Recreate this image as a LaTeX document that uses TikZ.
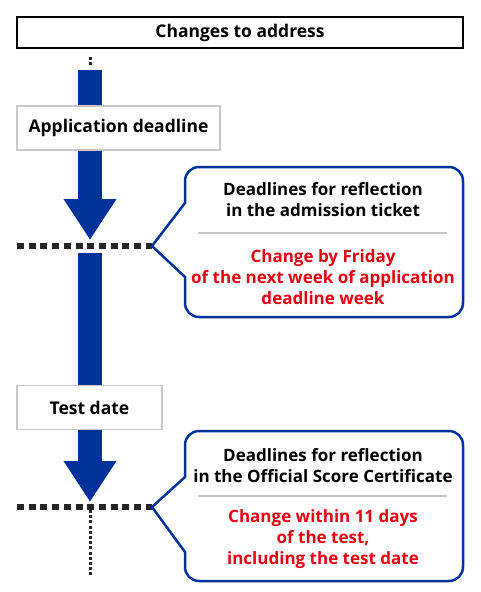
\documentclass[tikz,border=0pt]{standalone}
\usepackage{fontspec}
\setmainfont{Open Sans}
\usetikzlibrary{arrows.meta}
\definecolor{navy}{HTML}{003399}
\definecolor{redtxt}{HTML}{E60012}
\definecolor{boxgrey}{HTML}{C8C8C8}
\definecolor{sepgrey}{HTML}{C4C4C4}
\tikzset{
  fnt/.style={font=\fontsize{17}{21}\selectfont\bfseries},
  txt/.style={fnt, align=center, inner sep=0pt},
  topbox/.style={font=\fontsize{17.5}{21}\selectfont\bfseries, draw=black, line width=1.3pt, fill=white, minimum width=446pt, minimum height=31pt, inner sep=0pt},
  stagebox/.style={font=\fontsize{17.5}{21}\selectfont\bfseries, draw=boxgrey, line width=1.8pt, fill=white, minimum height=44pt, inner sep=0pt},
  bluebar/.style={draw=navy, line width=24pt},
  bluearrow/.style={bluebar, -{Triangle[width=50pt,length=41pt]}},
  thickdots/.style={line width=6.5pt, dash pattern=on 7pt off 4.7pt, black!85},
  thindots/.style={line width=3pt, dash pattern=on 3pt off 2.2pt, black!85},
  callout/.style={draw=navy, line width=2.5pt, fill=white, line join=miter},
  sepline/.style={draw=sepgrey, line width=2.5pt},
}
\begin{document}
\begin{tikzpicture}[x=1pt,y=-1pt]
\useasboundingbox (0,0) rectangle (480,592);
% boxes
\node[topbox] (top) at (240,32.5) {Changes to address};
\node[stagebox, minimum width=203pt] (app) at (118.5,128) {Application deadline};
\node[stagebox, minimum width=145pt] (test) at (89.5,407.5) {Test date};
% coordinates
\coordinate (d1t) at (90,57);
\coordinate (d1b) at (90,67);
\coordinate (b1) at (90,70);
\coordinate (tip1) at (90,240);
\coordinate (h1l) at (17,246);
\coordinate (h1r) at (152,246);
\coordinate (b2) at (90,253);
\coordinate (tip2) at (90,502);
\coordinate (h2l) at (17,507);
\coordinate (h2r) at (152,507);
\coordinate (v2t) at (90,510);
\coordinate (v2b) at (90,576);
% flow
\draw[thindots] (d1t) -- (d1b);
\draw[bluebar] (b1) -- (b1 |- app.north);
\draw[bluearrow] (b1 |- app.south) -- (tip1);
\draw[thickdots] (h1l) -- (h1r);
\draw[bluebar] (b2) -- (b2 |- test.north);
\draw[bluearrow] (b2 |- test.south) -- (tip2);
\draw[thickdots] (h2l) -- (h2r);
\draw[thindots] (v2t) -- (v2b);
% callout 1
\draw[callout] (320,167) [rounded corners=14pt] -- (463,167) -- (463,317) -- (185,317) [sharp corners] -- (185,277) -- (h1r) -- (185,203) [rounded corners=14pt] -- (185,167) -- cycle;
\node[txt] (c1a) at (323,200) {Deadlines for reflection\\in the admission ticket};
\coordinate (s1l) at (198,233);
\coordinate (s1r) at (447,233);
\draw[sepline] (s1l) -- (s1r);
\node[txt, text=redtxt] (c1b) at (323,277) {Change by Friday\\of the next week of application\\deadline week};
% callout 2
\draw[callout] (320,431) [rounded corners=14pt] -- (463,431) -- (463,581) -- (185,581) [sharp corners] -- (185,552) -- (h2r) -- (185,477) [rounded corners=14pt] -- (185,431) -- cycle;
\node[txt] (c2a) at (323,465.5) {Deadlines for reflection\\in the Official Score Certificate};
\coordinate (s2l) at (198,496);
\coordinate (s2r) at (447,496);
\draw[sepline] (s2l) -- (s2r);
\node[txt, text=redtxt] (c2b) at (323,539.5) {Change within 11 days\\of the test,\\including the test date};
\end{tikzpicture}
\end{document}
